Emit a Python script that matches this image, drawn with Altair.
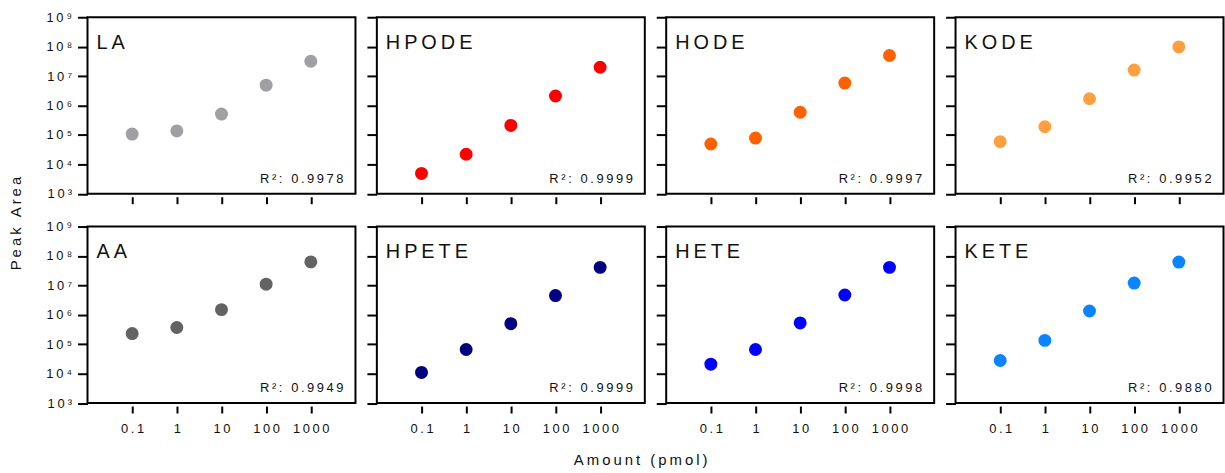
import altair as alt
import pandas as pd

# Compounds, marker colours and fit quality, in panel order (row by row)
compounds = ["LA", "HPODE", "HODE", "KODE", "AA", "HPETE", "HETE", "KETE"]
colors = ["#a0a0a4", "#ff0000", "#ff6000", "#ffa040",
          "#636363", "#000080", "#0000ff", "#0a84ff"]
r_squared = ["0.9978", "0.9999", "0.9997", "0.9952",
             "0.9949", "0.9999", "0.9998", "0.9880"]

# Injected amount (pmol)
amounts = [0.1, 1, 10, 100, 1000]

# Peak areas per compound
la = [1.07e5, 1.37e5, 5.1e5, 4.9e6, 3.2e7]
hpode = [4.9e3, 2.2e4, 2.1e5, 2.1e6, 2.0e7]
hode = [4.9e4, 7.8e4, 5.9e5, 5.8e6, 5.0e7]
kode = [5.9e4, 1.9e5, 1.7e6, 1.6e7, 9.8e7]
aa = [2.3e5, 3.7e5, 1.5e6, 1.1e7, 6.3e7]
hpete = [1.1e4, 6.6e4, 5.0e5, 4.5e6, 4.1e7]
hete = [2.1e4, 6.6e4, 5.3e5, 4.7e6, 4.1e7]
kete = [2.8e4, 1.35e5, 1.35e6, 1.2e7, 6.2e7]
peak_areas = [la, hpode, hode, kode, aa, hpete, hete, kete]

# Axis ticks and their labels
x_ticks = [0.1, 1, 10, 100, 1000]
x_tick_labels = ["0.1", "1", "10", "100", "1000"]
y_ticks = [1e3, 1e4, 1e5, 1e6, 1e7, 1e8, 1e9]
y_exponents = ["\u00b3", "\u2074", "\u2075", "\u2076", "\u2077", "\u2078", "\u2079"]

FONT = "Liberation Sans"
PANEL_W = 269.5
PANEL_H = 177.5


def spaced(s):
    """Open up the tracking of a string with thin spaces."""
    return "\u2009".join(s)


def label_expr(values, labels):
    expr = "''"
    for v, lab in reversed(list(zip(values, labels))):
        expr = f"datum.value == {v} ? '{lab}' : ({expr})"
    return expr


x_expr = label_expr(x_ticks, [spaced(t) for t in x_tick_labels])
y_expr = label_expr(y_ticks, [spaced("10") + "\u2005" + e for e in y_exponents])

rows = []
for name, vals in zip(compounds, peak_areas):
    for a, v in zip(amounts, vals):
        rows.append({"compound": name, "amount": a, "area": v})
data = pd.DataFrame(rows)

x_scale = alt.Scale(type="log", domain=[0.01, 1e4], nice=False)
y_scale = alt.Scale(type="log", domain=[1e3, 1e9], nice=False)


def panel(i):
    name = compounds[i]
    row, col = divmod(i, 4)
    points = alt.Chart(data[data.compound == name]).mark_circle(
        size=170, opacity=1, color=colors[i]
    ).encode(
        x=alt.X("amount:Q", scale=x_scale, title=None,
                axis=alt.Axis(values=x_ticks, labels=(row == 1), labelExpr=x_expr,
                              tickSize=7, offset=3, domain=False, grid=False,
                              labelPadding=10)),
        y=alt.Y("area:Q", scale=y_scale, title=None,
                axis=alt.Axis(values=y_ticks, labels=(col == 0), labelExpr=y_expr,
                              tickSize=10, domain=False, grid=False,
                              labelPadding=6)),
    )
    name_text = alt.Chart(pd.DataFrame({"t": [spaced(name)]})).mark_text(
        align="left", baseline="alphabetic", fontSize=20, font=FONT, color="#111"
    ).encode(text="t:N", x=alt.value(9), y=alt.value(32))
    r2_text = alt.Chart(pd.DataFrame({"t": [spaced("R\u00b2: " + r_squared[i])]})).mark_text(
        align="right", baseline="alphabetic", fontSize=13, font=FONT, color="#111"
    ).encode(text="t:N", x=alt.value(PANEL_W - 12), y=alt.value(PANEL_H - 11))
    return alt.layer(points, name_text, r2_text).properties(width=PANEL_W, height=PANEL_H)


grid = alt.concat(
    *[panel(i) for i in range(8)], columns=4,
    spacing={"row": 32.5, "column": 21}, bounds="flush",
    title=alt.TitleParams(spaced("Peak Area"), orient="left", anchor="middle",
                          font=FONT, fontSize=15, fontWeight="normal",
                          color="#111", offset=12, dy=-9),
)

chart = alt.vconcat(
    grid,
    title=alt.TitleParams(spaced("Amount (pmol)"), orient="bottom", anchor="middle",
                          font=FONT, fontSize=15, fontWeight="normal",
                          color="#111", offset=16, dx=24),
).properties(
    padding={"left": 9, "top": 9, "right": 0, "bottom": 5}
).configure(
    background="white"
).configure_view(
    stroke="black", strokeWidth=2
).configure_axis(
    tickColor="black", tickWidth=2, labelFont=FONT, labelFontSize=13,
    labelColor="#111"
)

chart.save("out.html", embed_options={"renderer": "svg", "actions": False})
